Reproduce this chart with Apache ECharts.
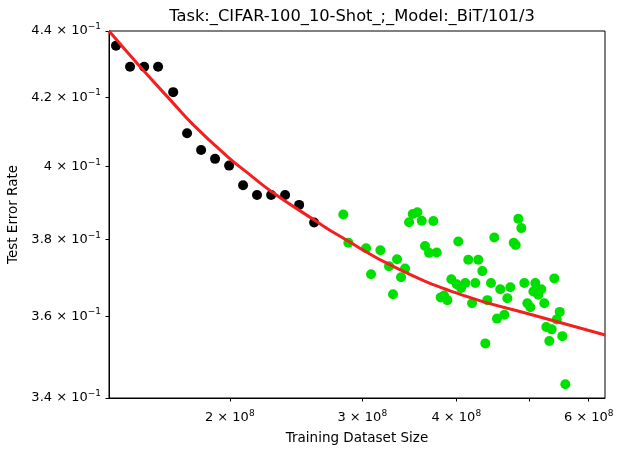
<!DOCTYPE html>
<html>
<head>
<meta charset="utf-8">
<script src="https://cdn.jsdelivr.net/npm/echarts@6/dist/echarts.min.js"></script>
<style>
  html, body { margin: 0; padding: 0; background: #fff; }
  #chart { width: 634px; height: 455px; }
</style>
</head>
<body>
<div id="chart"></div>
<script>
// reference set (black) and new runs (green)
var blackX = [1.412e8, 1.474e8, 1.539e8, 1.606e8, 1.682e8, 1.755e8, 1.832e8, 1.912e8,
              1.996e8, 2.083e8, 2.174e8, 2.270e8, 2.369e8, 2.473e8, 2.589e8];
var blackY = [0.4355, 0.4291, 0.4291, 0.4291, 0.4215, 0.4095, 0.4047, 0.4022,
              0.4003, 0.3948, 0.3921, 0.3921, 0.3921, 0.3894, 0.3846];

var greenX = [2.831e8, 2.875e8, 3.035e8, 3.082e8, 3.171e8, 3.256e8, 3.296e8, 3.337e8, 3.378e8, 3.420e8,
              3.462e8, 3.501e8, 3.551e8, 3.599e8, 3.635e8, 3.680e8, 3.729e8, 3.768e8, 3.814e8, 3.853e8,
              3.892e8, 3.940e8, 4.006e8, 4.025e8, 4.059e8, 4.112e8, 4.150e8, 4.198e8, 4.240e8, 4.279e8,
              4.332e8, 4.372e8, 4.399e8, 4.449e8, 4.494e8, 4.531e8, 4.577e8, 4.634e8, 4.677e8, 4.720e8,
              4.769e8, 4.798e8, 4.837e8, 4.881e8, 4.926e8, 4.972e8, 5.018e8, 5.064e8, 5.095e8, 5.142e8,
              5.189e8, 5.237e8, 5.269e8, 5.318e8, 5.357e8, 5.400e8, 5.440e8, 5.490e8, 5.534e8, 5.585e8];
var greenY = [0.3868, 0.3792, 0.3777, 0.3709, 0.3772, 0.3730, 0.3657, 0.3748, 0.3701, 0.3724,
              0.3847, 0.3869, 0.3874, 0.3851, 0.3783, 0.3765, 0.3850, 0.3766, 0.3649, 0.3654,
              0.3642, 0.3696, 0.3683, 0.3795, 0.3673, 0.3686, 0.3747, 0.3634, 0.3686, 0.3747,
              0.3717, 0.3533, 0.3642, 0.3686, 0.3806, 0.3595, 0.3670, 0.3605, 0.3647, 0.3675,
              0.3792, 0.3786, 0.3856, 0.3831, 0.3686, 0.3634, 0.3624, 0.3664, 0.3686, 0.3656,
              0.3670, 0.3634, 0.3574, 0.3539, 0.3568, 0.3698, 0.3593, 0.3612, 0.3551, 0.3433];

// fitted curve
var fitX = [1.382e8, 1.512e8, 1.675e8, 1.789e8, 1.982e8, 2.128e8, 2.271e8, 2.594e8,
            2.803e8, 3.334e8, 4.088e8, 5.013e8, 6.31e8];
var fitY = [0.4400, 0.4297, 0.4187, 0.4119, 0.4030, 0.3977, 0.3931, 0.3852,
            0.3809, 0.3725, 0.3654, 0.3606, 0.3554];

var xTicks = [2e8, 3e8, 4e8, 5e8, 6e8];
var xLabelTicks = [2e8, 3e8, 4e8, 6e8];
var xTickLabels = ['2', '3', '4', '6'];
var yTicks = [0.34, 0.36, 0.38, 0.40, 0.42, 0.44];
var yTickLabels = ['3.4', '3.6', '3.8', '4', '4.2', '4.4'];

function zip(xs, ys) {
    var out = [];
    for (var i = 0; i < xs.length; i++) {
        out.push([xs[i], ys[i]]);
    }
    return out;
}

var font = 'DejaVu Sans';
var rich = {
    m: { fontFamily: font, fontSize: 13, color: '#000' },
    s: { fontFamily: font, fontSize: 9, color: '#000', padding: [0, 0, 9, 0] }
};

var myChart = echarts.init(document.getElementById('chart'));
var option = {
    animation: false,
    backgroundColor: '#fff',
    title: {
        text: 'Task:_CIFAR-100_10-Shot_;_Model:_BiT/101/3',
        left: 347,
        textAlign: 'center',
        top: 4,
        textStyle: { fontFamily: font, fontSize: 16.3, fontWeight: 'normal', color: '#000' }
    },
    grid: {
        left: 109, right: 29, top: 31, bottom: 57,
        show: true, borderColor: '#000', borderWidth: 1,
        outerBoundsMode: 'none'
    },
    xAxis: {
        type: 'log',
        logBase: 10,
        min: 1.382e8,
        max: 6.306e8,
        name: 'Training Dataset Size',
        nameLocation: 'middle',
        nameGap: 33,
        nameTextStyle: { fontFamily: font, fontSize: 13.5, color: '#000' },
        axisLine: { show: true, onZero: false, lineStyle: { color: '#000', width: 1 } },
        axisTick: { show: true, length: 3.5, customValues: xTicks, lineStyle: { color: '#000' } },
        splitLine: { show: false },
        minorTick: { show: false },
        axisLabel: {
            customValues: xLabelTicks,
            margin: 11,
            formatter: function (value) {
                var i = xLabelTicks.indexOf(value);
                return '{m|' + xTickLabels[i] + ' × 10}{s|8}';
            },
            rich: rich
        }
    },
    yAxis: {
        type: 'log',
        logBase: 10,
        min: 0.34,
        max: 0.44,
        name: 'Test Error Rate',
        nameLocation: 'middle',
        nameGap: 73,
        nameTextStyle: { fontFamily: font, fontSize: 13.5, color: '#000' },
        axisLine: { show: true, onZero: false, lineStyle: { color: '#000', width: 1 } },
        axisTick: { show: true, length: 3.5, customValues: yTicks, lineStyle: { color: '#000' } },
        splitLine: { show: false },
        minorTick: { show: false },
        axisLabel: {
            customValues: yTicks,
            margin: 8,
            formatter: function (value) {
                var best = 0;
                for (var i = 0; i < yTicks.length; i++) {
                    if (Math.abs(yTicks[i] - value) < Math.abs(yTicks[best] - value)) best = i;
                }
                return '{m|' + yTickLabels[best] + ' × 10}{s|−1}';
            },
            rich: rich
        }
    },
    series: [
        {
            name: 'reference',
            type: 'scatter',
            symbol: 'circle',
            symbolSize: 10,
            itemStyle: { color: '#000', opacity: 1 },
            data: zip(blackX, blackY),
            z: 2
        },
        {
            name: 'new',
            type: 'scatter',
            symbol: 'circle',
            symbolSize: 10,
            itemStyle: { color: '#00e000', opacity: 1 },
            data: zip(greenX, greenY),
            z: 2
        },
        {
            name: 'fit',
            type: 'line',
            smooth: 0.5,
            showSymbol: false,
            symbol: 'none',
            lineStyle: { color: '#f22020', width: 3 },
            data: zip(fitX, fitY),
            z: 3
        }
    ]
};
myChart.setOption(option);
</script>
</body>
</html>
